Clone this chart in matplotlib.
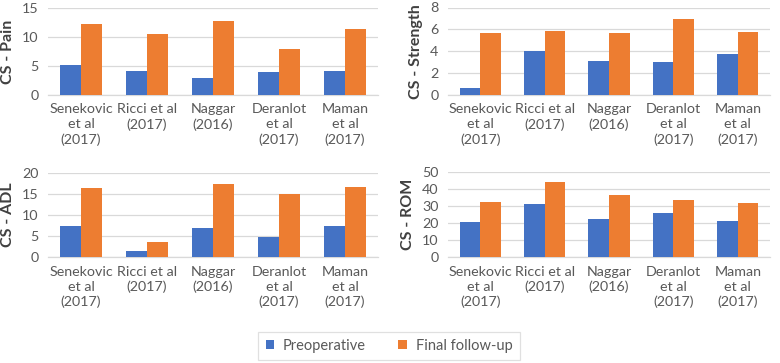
import matplotlib
matplotlib.use("Agg")
import matplotlib.pyplot as plt
import numpy as np
from matplotlib.patches import Patch

studies = ["Senekovic\net al\n(2017)", "Ricci et al\n(2017)", "Naggar\n(2016)",
           "Deranlot\net al\n(2017)", "Maman\net al\n(2017)"]
series_names = ["Preoperative", "Final follow-up"]

pain_pre = [5.1, 4.1, 2.9, 3.9, 4.2]
pain_post = [12.3, 10.6, 12.8, 8.0, 11.4]
strength_pre = [0.6, 4.0, 3.1, 3.0, 3.75]
strength_post = [5.65, 5.85, 5.65, 6.95, 5.75]
adl_pre = [7.3, 1.5, 6.8, 4.9, 7.5]
adl_post = [16.4, 3.6, 17.3, 15.0, 16.6]
rom_pre = [21.0, 31.6, 22.8, 25.8, 21.1]
rom_post = [32.7, 44.3, 36.9, 33.9, 32.2]

panels = [
    ("CS - Pain", pain_pre, pain_post, 15, 5),
    ("CS - Strength", strength_pre, strength_post, 8, 2),
    ("CS - ADL", adl_pre, adl_post, 20, 5),
    ("CS - ROM", rom_pre, rom_post, 50, 10),
]

blue = "#4472C4"
orange = "#ED7D31"
grid_c = "#D9D9D9"
tick_c = "#595959"
font = ["Lato", "DejaVu Sans"]
plt.rcParams['font.family'] = font

W, H = 780, 363
fig = plt.figure(figsize=(W / 100, H / 100), dpi=100)

boxes = [
    (48, 378, 8, 95),
    (448, 770, 7.5, 95),
    (48, 378, 172.5, 257.3),
    (448, 770, 172.3, 257.3),
]

bw = 0.32
for (label, pre, post, ymax, step), (x0, x1, yt, yb) in zip(panels, boxes):
    ax = fig.add_axes([x0 / W, 1 - yb / H, (x1 - x0) / W, (yb - yt) / H])
    x = np.arange(len(studies))
    ax.bar(x - bw / 2, pre, bw, color=blue, zorder=3)
    ax.bar(x + bw / 2, post, bw, color=orange, zorder=3)
    ax.set_xlim(-0.5, len(studies) - 0.5)
    ax.set_ylim(0, ymax)
    ax.set_yticks(np.arange(0, ymax + step / 2, step))
    ax.set_xticks(x)
    ax.set_xticklabels(studies, linespacing=1.3)
    ax.yaxis.grid(True, color=grid_c, lw=0.9, zorder=0)
    for s in ["top", "right", "left"]:
        ax.spines[s].set_visible(False)
    ax.spines["bottom"].set_color(grid_c)
    ax.spines["bottom"].set_linewidth(0.9)
    ax.tick_params(axis="both", length=0, colors=tick_c, labelsize=10.3)
    ax.tick_params(axis="x", pad=6)
    ax.tick_params(axis="y", pad=7)
    ax.set_ylabel(label, fontsize=11.5, fontweight="bold", color="#404040", labelpad=5)

handles = [Patch(facecolor=blue, label=series_names[0]),
           Patch(facecolor=orange, label=series_names[1])]
leg = fig.legend(handles=handles, loc="center", bbox_to_anchor=(389 / W, 1 - 346 / H),
                 ncol=2, frameon=True, fontsize=10.5, handlelength=0.6, handleheight=0.6,
                 handletextpad=0.6, columnspacing=2.2, borderpad=0.5, borderaxespad=0,
                 fancybox=False, labelcolor=tick_c)
leg.get_frame().set_edgecolor(grid_c)
leg.get_frame().set_linewidth(0.9)

fig.canvas.draw()
bb = leg.get_window_extent()
target_w = 282
extra = max(0, target_w - bb.width)
leg.get_frame().set_width(bb.width + extra) if False else None

fig.savefig("out.png", dpi=100)
